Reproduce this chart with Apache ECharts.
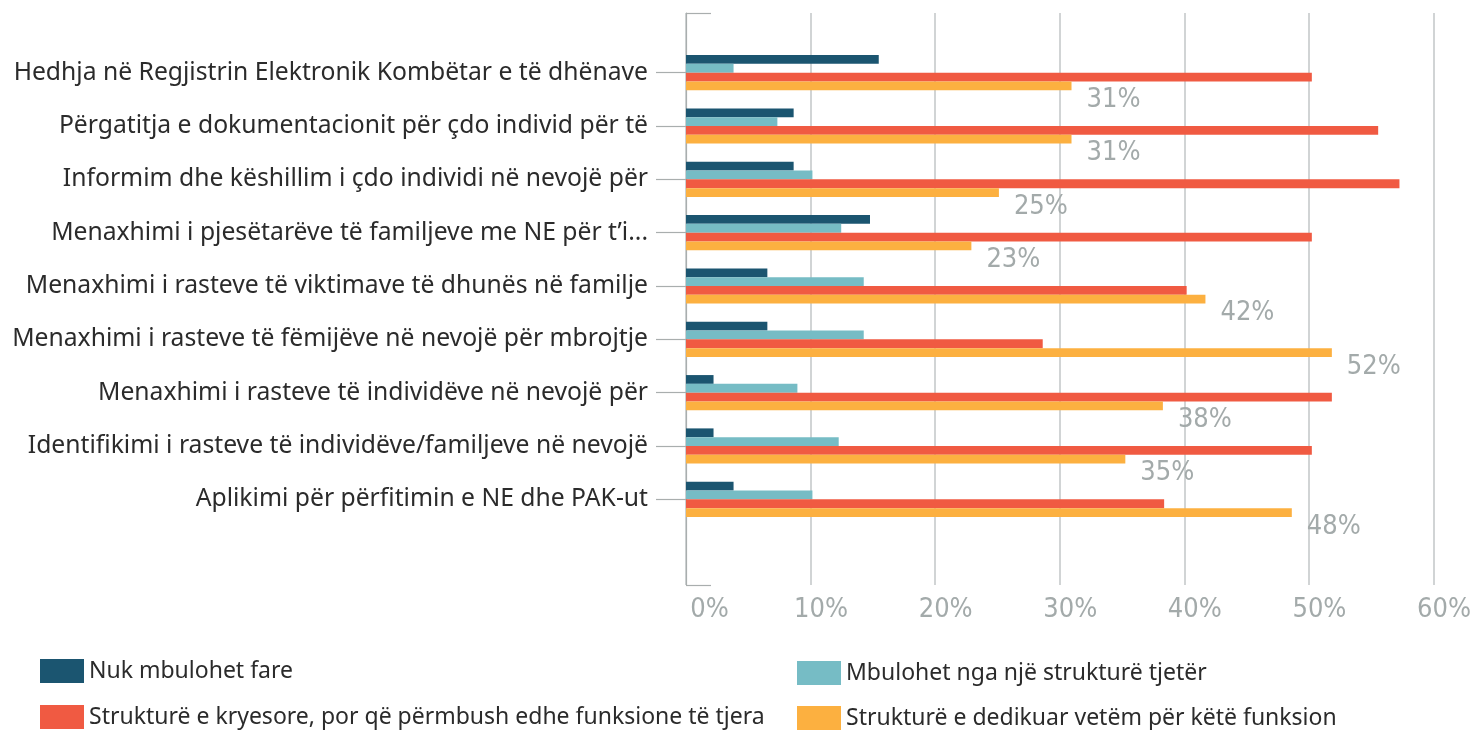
<!DOCTYPE html>
<html>
<head>
<meta charset="utf-8">
<script src="https://cdn.jsdelivr.net/npm/echarts@6/dist/echarts.min.js"></script>
<style>
html,body{margin:0;padding:0;background:#fff;}
#chart{width:1474px;height:730px;}
</style>
</head>
<body>
<div id="chart"></div>
<script>
const categories = [
  'Hedhja në Regjistrin Elektronik Kombëtar e të dhënave',
  'Përgatitja e dokumentacionit për çdo individ për të',
  'Informim dhe këshillim i çdo individi në nevojë për',
  'Menaxhimi i pjesëtarëve të familjeve me NE për t’i...',
  'Menaxhimi i rasteve të viktimave të dhunës në familje',
  'Menaxhimi i rasteve të fëmijëve në nevojë për mbrojtje',
  'Menaxhimi i rasteve të individëve në nevojë për',
  'Identifikimi i rasteve të individëve/familjeve në nevojë',
  'Aplikimi për përfitimin e NE dhe PAK-ut'
];
const seriesNames = [
  'Nuk mbulohet fare',
  'Mbulohet nga një strukturë tjetër',
  'Strukturë e kryesore, por që përmbush edhe funksione të tjera',
  'Strukturë e dedikuar vetëm për këtë funksion'
];
const nukMbulohet   = [15.4, 8.6, 8.6, 14.7, 6.5, 6.5, 2.2, 2.2, 3.8];
const tjeterStrukt  = [3.8, 7.3, 10.1, 12.4, 14.2, 14.2, 8.9, 12.2, 10.1];
const kryesore      = [50.0, 55.3, 57.0, 50.0, 40.0, 28.5, 51.6, 50.0, 38.2];
const dedikuar      = [30.8, 30.8, 25.0, 22.8, 41.5, 51.6, 38.1, 35.1, 48.4];
const xTicks = [0, 10, 20, 30, 40, 50, 60];

const colors = ['#1b5570', '#76bcc5', '#f05a42', '#fcb040'];
const catFont = 'Noto Sans';
const numFont = "'DejaVu Sans Condensed', Roboto, sans-serif";
const gray = '#a3aaaa';

const chart = echarts.init(document.getElementById('chart'), null, {renderer: 'canvas'});

function barSeries(i, data, withLabel) {
  return {
    name: seriesNames[i],
    type: 'bar',
    xAxisIndex: 1,
    yAxisIndex: 1,
    data: data,
    barWidth: 8.8,
    barGap: '0%',
    itemStyle: {color: colors[i]},
    silent: true,
    label: withLabel ? {
      show: true,
      position: 'right',
      offset: [10, 14],
      formatter: p => Math.round(p.value) + '%',
      fontFamily: numFont,
      fontSize: 27,
      color: gray
    } : {show: false}
  };
}

function legendItem(i, left, top) {
  return {
    data: [seriesNames[i]], left: left, top: top, orient: 'vertical',
    icon: 'rect', itemWidth: 44, itemHeight: 24, selectedMode: false,
    padding: 0,
    textStyle: {fontFamily: catFont, fontSize: 23, color: '#2b2b2b'}
  };
}

chart.setOption({
  animation: false,
  backgroundColor: '#fff',
  grid: [
    {left: 686, right: 37, top: 13, bottom: 145},
    {left: 686, right: 37, top: 46, height: 480}
  ],
  xAxis: [
    {
      gridIndex: 0, type: 'value', min: xTicks[0], max: xTicks[xTicks.length - 1], interval: 10,
      axisLine: {show: false}, axisTick: {show: false},
      splitLine: {show: true, lineStyle: {color: '#c6cacb', width: 1.6}},
      axisLabel: {
        margin: 11,
        formatter: v => v === 0 ? '{z|' + v + '%}' : '{n|' + v + '%}',
        rich: {
          z: {fontFamily: numFont, fontSize: 27, color: gray, padding: [0, 0, 0, 47]},
          n: {fontFamily: numFont, fontSize: 27, color: gray, padding: [0, 0, 0, 21]}
        }
      }
    },
    {gridIndex: 1, type: 'value', min: 0, max: 60, show: false}
  ],
  yAxis: [
    {
      gridIndex: 0, type: 'value', min: 0, max: 1, interval: 1,
      axisLine: {show: true, lineStyle: {color: '#a9aeae', width: 1.2}},
      axisTick: {show: true, inside: true, length: 25, lineStyle: {color: '#a9aeae', width: 1.2}},
      axisLabel: {show: false}, splitLine: {show: false}
    },
    {
      gridIndex: 1, type: 'category', data: categories, inverse: true,
      axisLine: {show: false},
      axisTick: {show: true, alignWithLabel: true, length: 30, lineStyle: {color: '#a9aeae', width: 1.2}},
      axisLabel: {margin: 38, fontFamily: catFont, fontSize: 24.7, color: '#2b2b2b'}
    }
  ],
  legend: [
    legendItem(0, 40, 659),
    legendItem(2, 40, 705),
    legendItem(1, 797, 661),
    legendItem(3, 797, 706)
  ],
  series: [
    barSeries(0, nukMbulohet, false),
    barSeries(1, tjeterStrukt, false),
    barSeries(2, kryesore, false),
    barSeries(3, dedikuar, true)
  ]
});
</script>
</body>
</html>
